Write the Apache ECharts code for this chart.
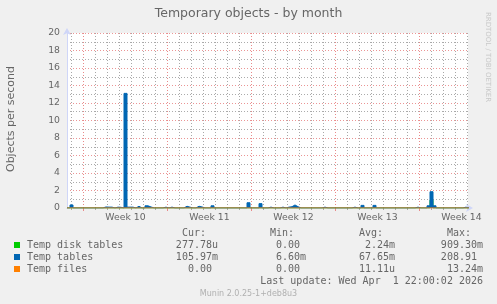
<!DOCTYPE html>
<html><head><meta charset="utf-8">
<script src="https://cdn.jsdelivr.net/npm/echarts@6/dist/echarts.min.js"></script>
<style>html,body{margin:0;padding:0;background:#F0F0F0;}#c{width:497px;height:304px;}</style>
</head><body><div id="c"></div>
<script>
// ---- data ----
const chartTitle = 'Temporary objects - by month';
const yTitle = 'Objects per second';
const watermark = 'RRDTOOL / TOBI OETIKER';
const seriesNames = ['Temp disk tables', 'Temp tables', 'Temp files'];
const seriesColors = ['#00CC00', '#0066B3', '#FF8000'];
// samples every 6 hours, time in hours relative to Sun 1 Mar 2026 00:00
const startHour = -33;
const stepHours = 6;
const axisMinHour = -33;
const axisMaxHour = 769;
const diskTables = [
  0,0,0,0,0,0,0,0,0,0,
  0,0,0,0,0,0,0,0,0,0,
  0,0,0,0,0,0,0,0,0,0,
  0,0,0,0,0,0,0,0,0,0,
  0,0,0,0,0,0,0,0,0,0,
  0,0,0,0,0,0,0,0,0,0,
  0,0,0,0,0,0,0,0,0,0,
  0,0,0,0,0,0,0,0,0,0,
  0,0,0,0,0,0,0,0,0,0,
  0,0,0,0,0,0,0,0,0,0,
  0,0,0,0,0,0,0,0,0,0,
  0,0,0,0,0,0,0,0,0,0,
  0,0.9,0,0,0,0,0,0,0,0,
  0,0,0,0,0
];
const tempTables = [
  0.01,0.35,0.01,0.01,0.01,0.01,0.01,0.01,0.01,0.01,
  0.01,0.01,0.12,0.1,0.1,0.01,0.1,0.08,0.01,13.1,
  0.1,0.1,0.01,0.2,0.01,0.01,0.25,0.12,0.01,0.01,
  0.01,0.01,0.1,0.01,0.1,0.01,0.01,0.01,0.01,0.2,
  0.1,0.01,0.01,0.2,0.12,0.01,0.01,0.01,0.25,0.01,
  0.01,0.01,0.01,0.01,0.01,0.01,0.01,0.01,0.01,0.01,
  0.6,0.01,0.01,0.01,0.5,0.01,0.01,0.1,0.01,0.01,
  0.01,0.1,0.01,0.1,0.15,0.35,0.15,0.01,0.01,0.01,
  0.01,0.01,0.01,0.01,0.01,0.1,0.01,0.01,0.01,0.01,
  0.01,0.01,0.01,0.01,0.01,0.1,0.01,0.01,0.3,0.01,
  0.01,0.01,0.3,0.01,0.01,0.01,0.01,0.01,0.01,0.01,
  0.01,0.01,0.01,0.01,0.01,0.01,0.1,0.01,0.01,0.01,
  0.25,1.86,0.25,0.01,0.01,0.01,0.01,0.01,0.01,0.01,
  0.01,0.01,0.1,0.01,0.01
];
const tempFiles = [
  0,0,0,0,0,0,0,0,0,0,
  0,0,0,0,0,0,0,0,0,0,
  0,0,0,0,0,0,0,0,0,0,
  0,0,0,0,0,0,0,0,0,0,
  0,0,0,0,0,0,0,0,0,0,
  0,0,0,0,0,0,0,0,0,0,
  0,0,0,0,0,0,0,0,0,0,
  0,0,0,0,0,0,0,0,0,0,
  0,0,0,0,0,0,0,0,0,0,
  0,0,0,0,0,0,0,0,0,0,
  0,0,0,0,0,0,0,0,0,0,
  0,0,0,0,0,0,0,0,0,0,
  0,0,0,0,0,0,0,0,0,0,
  0,0,0,0,0
];
const weekLabels = ['Week 10', 'Week 11', 'Week 12', 'Week 13', 'Week 14'];
const weekLabelHours = [84, 252, 420, 588, 756];
const weekLineHours = [0, 168, 336, 504, 672];
const dayLineHours = [-24, 24, 48, 72, 96, 120, 144, 192, 216, 240, 264, 288, 312,
  360, 384, 408, 432, 456, 480, 528, 552, 576, 600, 624, 648, 696, 720, 744, 768];
const yMin = 0, yMax = 20, yStep = 2;
const legendHeaders = ['Cur:', 'Min:', 'Avg:', 'Max:'];
const legendCur = ['277.78u', '105.97m', '0.00'];
const legendMin = ['0.00', '6.60m', '0.00'];
const legendAvg = ['2.24m', '67.65m', '11.11u'];
const legendMax = ['909.30m', '208.91', '13.24m'];
const lastUpdate = 'Last update: Wed Apr  1 22:00:02 2026';
const versionText = 'Munin 2.0.25-1+deb8u3';

// ---- build ----
const FONT = 'DejaVu Sans';
const MONO = 'DejaVu Sans Mono';
const TXT = '#666666';
const toPairs = arr => arr.map((v, i) => [startHour + i * stepHours, v]);
const gridGray = 'rgba(143,143,143,0.75)';
const gridRed = 'rgba(222,79,79,0.6)';
const vGray = '#a8a8a8';
const vRed = '#e88a8a';

const chart = echarts.init(document.getElementById('c'), null, {renderer: 'canvas'});

const colX = [218, 306, 395, 483];
const headX = [182, 270, 359, 447];
const rowY = [245.5, 257.5, 269.5];
const graphics = [];
graphics.push({type: 'text', x: 248.5, y: 14, style: {text: chartTitle, fill: TXT, font: '12.5px "' + FONT + '"', align: 'center', verticalAlign: 'middle'}});
graphics.push({type: 'text', x: 11, y: 119, rotation: Math.PI / 2, style: {text: yTitle, fill: TXT, font: '11px "' + FONT + '"', align: 'center', verticalAlign: 'middle'}});
graphics.push({type: 'text', x: 488, y: 57, rotation: -Math.PI / 2, style: {text: watermark, fill: '#c8c8c8', font: '7px "' + FONT + '"', align: 'center', verticalAlign: 'middle'}});
legendHeaders.forEach((h, k) => graphics.push({type: 'text', x: headX[k], y: 233, style: {text: h, fill: TXT, font: '10px "' + MONO + '"', align: 'left', verticalAlign: 'middle'}}));
const cols = [legendCur, legendMin, legendAvg, legendMax];
seriesNames.forEach((n, r) => {
  graphics.push({type: 'rect', shape: {x: 14, y: rowY[r] - 3.5, width: 6, height: 6}, style: {fill: seriesColors[r]}});
  graphics.push({type: 'text', x: 27, y: rowY[r], style: {text: n, fill: TXT, font: '10px "' + MONO + '"', align: 'left', verticalAlign: 'middle'}});
  cols.forEach((c, k) => {
    const s = /[a-zA-Z]$/.test(c[r]) ? c[r] : c[r] + ' ';
    graphics.push({type: 'text', x: colX[k], y: rowY[r], style: {text: s, fill: TXT, font: '10px "' + MONO + '"', align: 'right', verticalAlign: 'middle'}});
  });
});
graphics.push({type: 'text', x: 483, y: 281.5, style: {text: lastUpdate, fill: TXT, font: '10px "' + MONO + '"', align: 'right', verticalAlign: 'middle'}});
graphics.push({type: 'text', x: 248.5, y: 293.5, style: {text: versionText, fill: '#b0b0b0', font: '8px "' + FONT + '"', align: 'center', verticalAlign: 'middle'}});

const option = {
  backgroundColor: '#F0F0F0',
  animation: false,
  grid: {left: 67, right: 29, top: 33, bottom: 96, show: true, backgroundColor: '#FFFFFF', borderWidth: 0},
  xAxis: [{
    type: 'value', min: axisMinHour, max: axisMaxHour,
    axisLine: {show: true, onZero: false, lineStyle: {color: '#CFD6F8', width: 1}, symbol: ['none', 'arrow'], symbolSize: [6, 7], symbolOffset: [0, 5]},
    axisTick: {show: true, customValues: dayLineHours, length: 2, lineStyle: {color: vGray}},
    axisLabel: {show: true, customValues: weekLabelHours, margin: 5, color: TXT, fontFamily: FONT, fontSize: 9.3,
      formatter: v => weekLabels[weekLabelHours.indexOf(v)] || ''},
    splitLine: {show: true, lineStyle: {color: [vGray], type: [1, 2], width: 1, opacity: 1}}
  }, {
    type: 'value', min: axisMinHour, max: axisMaxHour, position: 'bottom', offset: 0,
    axisLine: {show: false, onZero: false},
    axisTick: {show: true, customValues: weekLineHours, length: 3, lineStyle: {color: vRed}},
    axisLabel: {show: false},
    splitLine: {show: true, lineStyle: {color: [vRed], type: [1, 2], width: 1, opacity: 1}}
  }],
  yAxis: {
    type: 'value', min: yMin, max: yMax, interval: yStep,
    axisLine: {show: true, onZero: false, lineStyle: {color: '#CFD6F8', width: 1}, symbol: ['none', 'arrow'], symbolSize: [6, 7], symbolOffset: [0, 5]},
    axisTick: {show: false},
    axisLabel: {color: TXT, fontFamily: FONT, fontSize: 9.3, margin: 7},
    splitLine: {show: true, lineStyle: {color: gridRed, type: [1, 2], width: 1}},
    minorTick: {show: false, splitNumber: 2},
    minorSplitLine: {show: true, lineStyle: {color: gridGray, type: [1, 2], width: 1}}
  },
  graphic: graphics,
  series: [
    {type: 'line', name: seriesNames[0], data: toPairs(diskTables), step: 'end', symbol: 'none', z: 2,
      lineStyle: {color: seriesColors[0], width: 1}, areaStyle: {color: seriesColors[0], opacity: 1}},
    {type: 'line', name: seriesNames[1], data: toPairs(tempTables), step: 'end', symbol: 'none', z: 3,
      lineStyle: {color: seriesColors[1], width: 1}, areaStyle: {color: seriesColors[1], opacity: 1}},
    {type: 'line', name: seriesNames[2], data: toPairs(tempFiles), step: 'end', symbol: 'none', z: 4,
      lineStyle: {color: seriesColors[2], width: 1.2}}
  ]
};
chart.setOption(option);
</script>
</body></html>
